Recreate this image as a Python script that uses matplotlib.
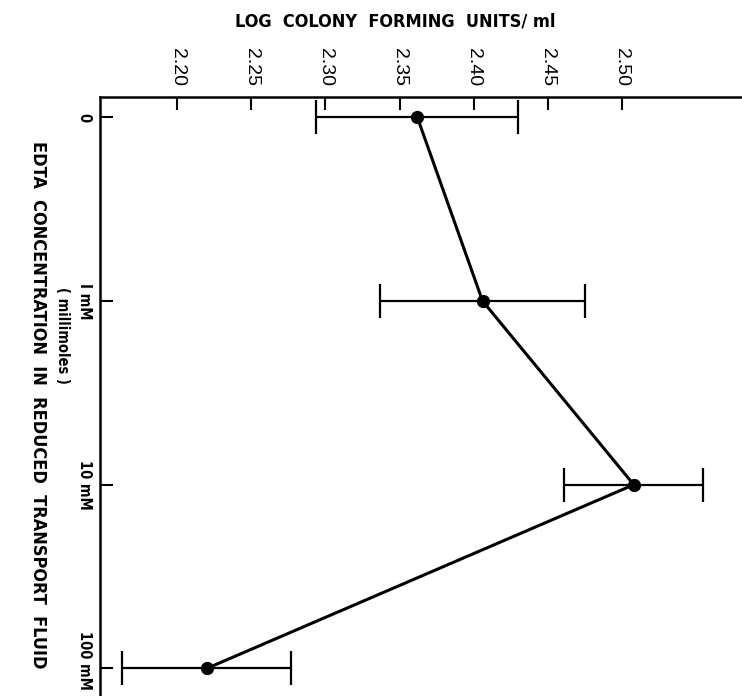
import numpy as np
import matplotlib
matplotlib.use('Agg')
import matplotlib.pyplot as plt
from matplotlib.transforms import ScaledTranslation

categories = ['0', 'I mM', '10 mM', '100 mM']
log_cfu = [2.362, 2.406, 2.508, 2.220]
err = [0.068, 0.069, 0.047, 0.057]
value_ticks = [2.20, 2.25, 2.30, 2.35, 2.40, 2.45, 2.50]
value_labels = ['2.20', '2.25', '2.30', '2.35', '2.40', '2.45', '2.50']

cond = dict(family='DejaVu Sans', stretch='condensed', fontweight='bold')
plain = ['Liberation Sans', 'DejaVu Sans']

fig = plt.figure(figsize=(7.42, 6.96), dpi=100)
ax = fig.add_axes([100 / 742, 0.0, 1 - 100 / 742, 1 - 97 / 696])

pos = np.arange(len(categories))
ax.errorbar(log_cfu, pos, xerr=err, color='black', linewidth=2.2, elinewidth=1.6,
            capsize=12, capthick=1.6, marker='o', markersize=8.5)

ax.set_xlim(2.148, 2.581)
ax.set_ylim(3.15, -0.11)

ax.xaxis.tick_top()
ax.set_xticks(value_ticks)
ax.set_xticklabels(value_labels, rotation=-90, fontsize=14, family=plain)
ax.set_yticks(pos)
ax.set_yticklabels(categories, rotation=-90, fontsize=10.5, va='center', **cond)
ax.tick_params(axis='x', direction='in', length=9, width=1.5, pad=8)
ax.tick_params(axis='y', direction='in', length=9, width=1.5, pad=6)

# last label sits right at the bottom edge, nudge it up so it stays inside
last = ax.get_yticklabels()[-1]
last.set_transform(last.get_transform() + ScaledTranslation(0, 8 / 100, fig.dpi_scale_trans))

for s in ['right', 'bottom']:
    ax.spines[s].set_visible(False)
for s in ['top', 'left']:
    ax.spines[s].set_linewidth(1.8)

fig.text(395 / 742, 1 - 22 / 696, 'LOG  COLONY  FORMING  UNITS/ ml',
         ha='center', va='center', fontsize=13, **cond)
fig.text(38 / 742, 1 - 405 / 696, 'EDTA  CONCENTRATION  IN  REDUCED  TRANSPORT  FLUID',
         rotation=-90, ha='center', va='center', fontsize=13, **cond)
fig.text(62 / 742, 1 - 335 / 696, '( millimoles )', rotation=-90,
         ha='center', va='center', fontsize=10.5, **cond)

fig.savefig('out.png', dpi=100)
